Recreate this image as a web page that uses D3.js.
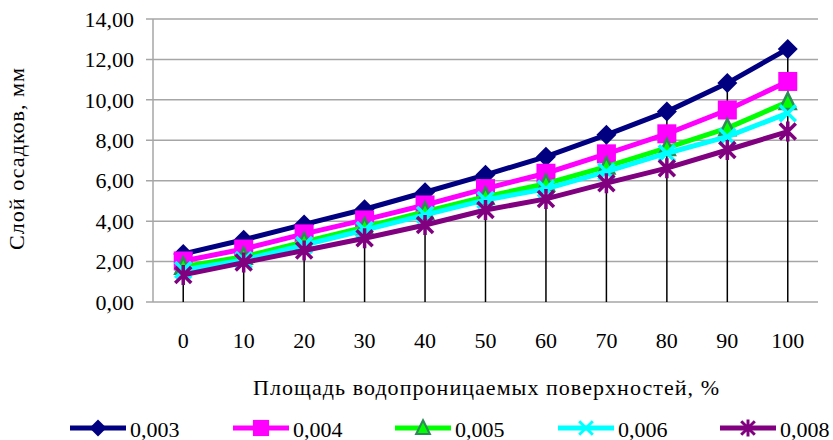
<!DOCTYPE html>
<html>
<head>
<meta charset="utf-8">
<script src="https://cdn.jsdelivr.net/npm/d3@7"></script>
<style>
  body { margin: 0; background: #fff; }
  svg text { font-family: "Liberation Serif", "Times New Roman", serif; fill: #000; }
</style>
</head>
<body>
<svg id="chart" width="833" height="440"></svg>
<script>
// chart data
var categories = [0, 10, 20, 30, 40, 50, 60, 70, 80, 90, 100];
var seriesNames = ['0,003', '0,004', '0,005', '0,006', '0,008'];
var s003 = [2.38, 3.08, 3.84, 4.59, 5.43, 6.29, 7.19, 8.27, 9.42, 10.83, 12.52];
var s004 = [2.03, 2.62, 3.37, 4.06, 4.80, 5.61, 6.37, 7.33, 8.32, 9.50, 10.91];
var s005 = [1.75, 2.24, 2.97, 3.70, 4.47, 5.21, 5.85, 6.70, 7.62, 8.60, 9.90];
var s006 = [1.58, 2.08, 2.82, 3.56, 4.31, 5.05, 5.60, 6.45, 7.36, 8.18, 9.34];
var s008 = [1.34, 1.95, 2.55, 3.15, 3.81, 4.55, 5.10, 5.88, 6.62, 7.52, 8.43];
var yTicks = [0, 2, 4, 6, 8, 10, 12, 14];

var xTitle = 'Площадь водопроницаемых поверхностей, %';
var yTitle = 'Слой осадков, мм';

var series = [
    {name: seriesNames[0], values: s003, color: '#000080', marker: 'diamond'},
    {name: seriesNames[1], values: s004, color: '#ff00ff', marker: 'square'},
    {name: seriesNames[2], values: s005, color: '#00ff00', marker: 'triangle'},
    {name: seriesNames[3], values: s006, color: '#00ffff', marker: 'cross'},
    {name: seriesNames[4], values: s008, color: '#800080', marker: 'star'}
];

var svg = d3.select('#chart');
var plot = {left: 153, right: 818, top: 19, bottom: 302};

var x = d3.scalePoint().domain(categories).range([plot.left, plot.right]).padding(0.5);
var y = d3.scaleLinear().domain([0, 14]).range([plot.bottom, plot.top]);
var fmt = function (v) { return d3.format('.2f')(v).replace('.', ','); };

// gridlines + y ticks
var grid = svg.append('g');
grid.selectAll('line').data(yTicks).enter().append('line')
    .attr('x1', plot.left - 7).attr('x2', plot.right)
    .attr('y1', function (d) { return y(d); }).attr('y2', function (d) { return y(d); })
    .attr('stroke', '#a6a6a6').attr('stroke-width', 1.5);

svg.append('line')
    .attr('x1', plot.left).attr('x2', plot.left)
    .attr('y1', plot.top).attr('y2', plot.bottom)
    .attr('stroke', '#a6a6a6').attr('stroke-width', 1.5);

svg.append('g').selectAll('text').data(yTicks).enter().append('text')
    .attr('x', 134).attr('y', function (d) { return y(d); })
    .attr('dy', '0.35em').attr('text-anchor', 'end')
    .style('font-size', '22px')
    .text(fmt);

svg.append('g').selectAll('text').data(categories).enter().append('text')
    .attr('x', function (d) { return x(d); }).attr('y', 340)
    .attr('dy', '0.35em').attr('text-anchor', 'middle')
    .style('font-size', '22px')
    .text(function (d) { return d; });

// drop lines from the highest point down to the axis
svg.append('g').selectAll('line').data(categories).enter().append('line')
    .attr('x1', function (d) { return x(d); }).attr('x2', function (d) { return x(d); })
    .attr('y1', function (d, i) { return y(d3.max(series, function (s) { return s.values[i]; })); })
    .attr('y2', plot.bottom)
    .attr('stroke', '#000').attr('stroke-width', 1.5);

function drawMarker(g, type, color) {
    if (type === 'diamond') {
        g.append('path').attr('d', 'M0,-10L10,0L0,10L-10,0Z').attr('fill', color);
    } else if (type === 'square') {
        g.append('rect').attr('x', -9.5).attr('y', -9.5).attr('width', 19).attr('height', 19).attr('fill', color);
    } else if (type === 'triangle') {
        g.append('path').attr('d', 'M0,-9L8,7L-8,7Z').attr('fill', color)
            .attr('stroke', '#2e8b57').attr('stroke-width', 2.5).attr('stroke-linejoin', 'miter');
    } else if (type === 'cross') {
        g.append('path').attr('d', 'M-8,-8L8,8M-8,8L8,-8').attr('stroke', color).attr('stroke-width', 3.5);
    } else if (type === 'star') {
        g.append('path').attr('d', 'M-8,-8L8,8M-8,8L8,-8M0,-10L0,10').attr('stroke', color).attr('stroke-width', 3.5);
    }
}

var line = d3.line()
    .x(function (d, i) { return x(categories[i]); })
    .y(function (d) { return y(d); });

series.forEach(function (s) {
    var g = svg.append('g');
    g.append('path').attr('d', line(s.values))
        .attr('fill', 'none').attr('stroke', s.color).attr('stroke-width', 5);
    s.values.forEach(function (v, i) {
        var m = g.append('g').attr('transform', 'translate(' + x(categories[i]) + ',' + y(v) + ')');
        drawMarker(m, s.marker, s.color);
    });
});

// axis titles
svg.append('text')
    .attr('x', 486).attr('y', 395)
    .attr('text-anchor', 'middle').style('font-size', '22px')
    .attr('textLength', 466).attr('lengthAdjust', 'spacing')
    .text(xTitle);

svg.append('text')
    .attr('transform', 'translate(24,159) rotate(-90)')
    .attr('text-anchor', 'middle').style('font-size', '22px')
    .attr('textLength', 182).attr('lengthAdjust', 'spacing')
    .text(yTitle);

// legend
var legendX = [70, 233, 395, 558, 720];
var legend = svg.append('g');
series.forEach(function (s, i) {
    var g = legend.append('g').attr('transform', 'translate(' + legendX[i] + ',428)');
    g.append('line').attr('x1', 0).attr('x2', 56).attr('y1', 0).attr('y2', 0)
        .attr('stroke', s.color).attr('stroke-width', 5);
    drawMarker(g.append('g').attr('transform', 'translate(28,0) scale(0.85)'), s.marker, s.color);
    g.append('text').attr('x', 60).attr('y', 8.5)
        .style('font-size', '22px').text(s.name);
});
</script>
</body>
</html>
